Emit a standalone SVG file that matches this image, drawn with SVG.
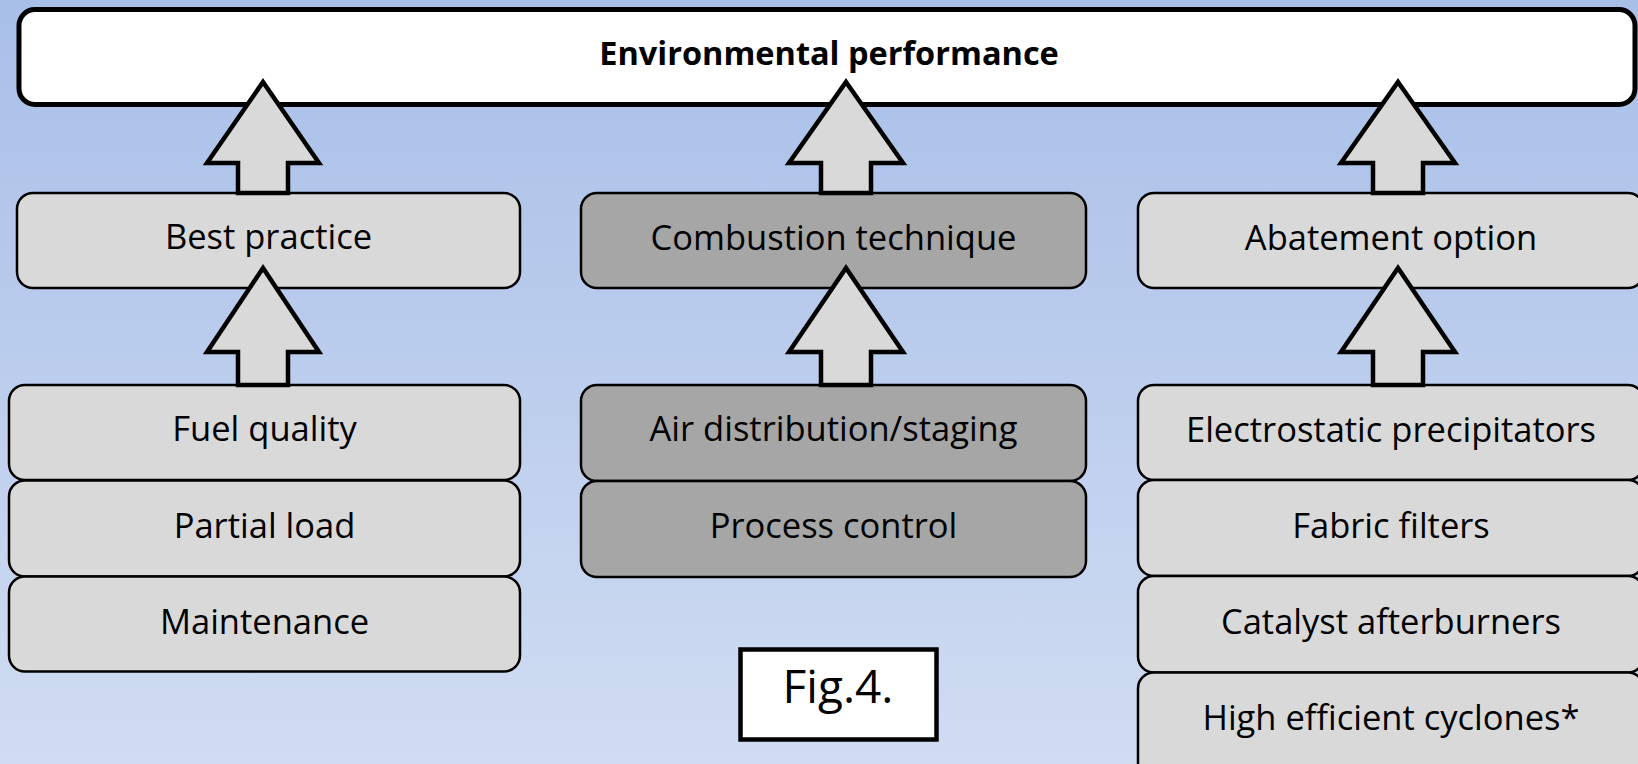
<svg xmlns="http://www.w3.org/2000/svg" width="1638" height="764" viewBox="0 0 1638 764">
<defs>
<linearGradient id="bg" x1="0" y1="0" x2="0" y2="1">
<stop offset="0" stop-color="#a8bfe8"/>
<stop offset="1" stop-color="#d0dcf2"/>
</linearGradient>
<style>
.box{fill:#d9d9d9;stroke:#000;stroke-width:2.5}
.dark{fill:#a6a6a6;stroke:#000;stroke-width:2.5}
.arrow{fill:#d9d9d9;stroke:#000;stroke-width:4.5;stroke-linejoin:miter}
.t{font-family:"Open Sans","Liberation Sans",sans-serif;font-size:34.5px;fill:#000;text-anchor:middle}
.fig{font-family:"Open Sans","Liberation Sans",sans-serif;font-size:46px;fill:#000;text-anchor:middle}
.title{font-family:"Open Sans","Liberation Sans",sans-serif;font-size:32.5px;font-weight:bold;fill:#000;text-anchor:middle}
</style>
</defs>
<rect x="0" y="0" width="1638" height="764" fill="url(#bg)"/>

<g id="env">
<rect x="19" y="9.5" width="1616" height="95" rx="16" fill="#fff" stroke="#000" stroke-width="5"/>
<text class="title" x="829" y="65">Environmental performance</text>
</g>

<g id="best-practice">
<rect class="box" x="17" y="193" width="503" height="95" rx="16"/>
<text class="t" x="268.5" y="249">Best practice</text>
</g>
<g id="fuel-quality">
<rect class="box" x="9" y="385" width="511" height="95" rx="16"/>
<text class="t" x="264.5" y="441">Fuel quality</text>
</g>
<g id="partial-load">
<rect class="box" x="9" y="480.5" width="511" height="96" rx="16"/>
<text class="t" x="264.5" y="538">Partial load</text>
</g>
<g id="maintenance">
<rect class="box" x="9" y="576.5" width="511" height="95" rx="16"/>
<text class="t" x="264.5" y="634">Maintenance</text>
</g>

<g id="combustion-technique">
<rect class="dark" x="581" y="193" width="505" height="95" rx="16"/>
<text class="t" x="833.5" y="250">Combustion technique</text>
</g>
<g id="air-distribution">
<rect class="dark" x="581" y="385" width="505" height="96" rx="16"/>
<text class="t" x="833.5" y="441">Air distribution/staging</text>
</g>
<g id="process-control">
<rect class="dark" x="581" y="481" width="505" height="96" rx="16"/>
<text class="t" x="833.5" y="538">Process control</text>
</g>

<g id="abatement-option">
<rect class="box" x="1138" y="193" width="506" height="95" rx="16"/>
<text class="t" x="1391" y="250">Abatement option</text>
</g>
<g id="electrostatic">
<rect class="box" x="1138" y="385" width="506" height="95" rx="16"/>
<text class="t" x="1391" y="442">Electrostatic precipitators</text>
</g>
<g id="fabric-filters">
<rect class="box" x="1138" y="480" width="506" height="96" rx="16"/>
<text class="t" x="1391" y="538">Fabric filters</text>
</g>
<g id="catalyst">
<rect class="box" x="1138" y="576" width="506" height="96.5" rx="16"/>
<text class="t" x="1391" y="634">Catalyst afterburners</text>
</g>
<g id="cyclones">
<rect class="box" x="1138" y="672.5" width="506" height="110" rx="16"/>
<text class="t" x="1391" y="730">High efficient cyclones*</text>
</g>

<g id="fig-label">
<rect x="740.5" y="649.5" width="196" height="90" fill="#fff" stroke="#000" stroke-width="4.5"/>
<text class="fig" x="838" y="703">Fig.4.</text>
</g>

<g id="connectors">
<path class="arrow" d="M263,82 L319,163 L288,163 L288,193 L238,193 L238,163 L207,163 Z"/>
<path class="arrow" d="M846,82 L903,163 L871,163 L871,193 L821,193 L821,163 L789,163 Z"/>
<path class="arrow" d="M1398,82 L1455,163 L1423,163 L1423,193 L1373,193 L1373,163 L1341,163 Z"/>
<path class="arrow" d="M263,268 L319,352 L288,352 L288,385 L238,385 L238,352 L207,352 Z"/>
<path class="arrow" d="M846,268 L903,352 L871,352 L871,385 L821,385 L821,352 L789,352 Z"/>
<path class="arrow" d="M1398,268 L1455,352 L1423,352 L1423,385 L1373,385 L1373,352 L1341,352 Z"/>
</g>
</svg>
